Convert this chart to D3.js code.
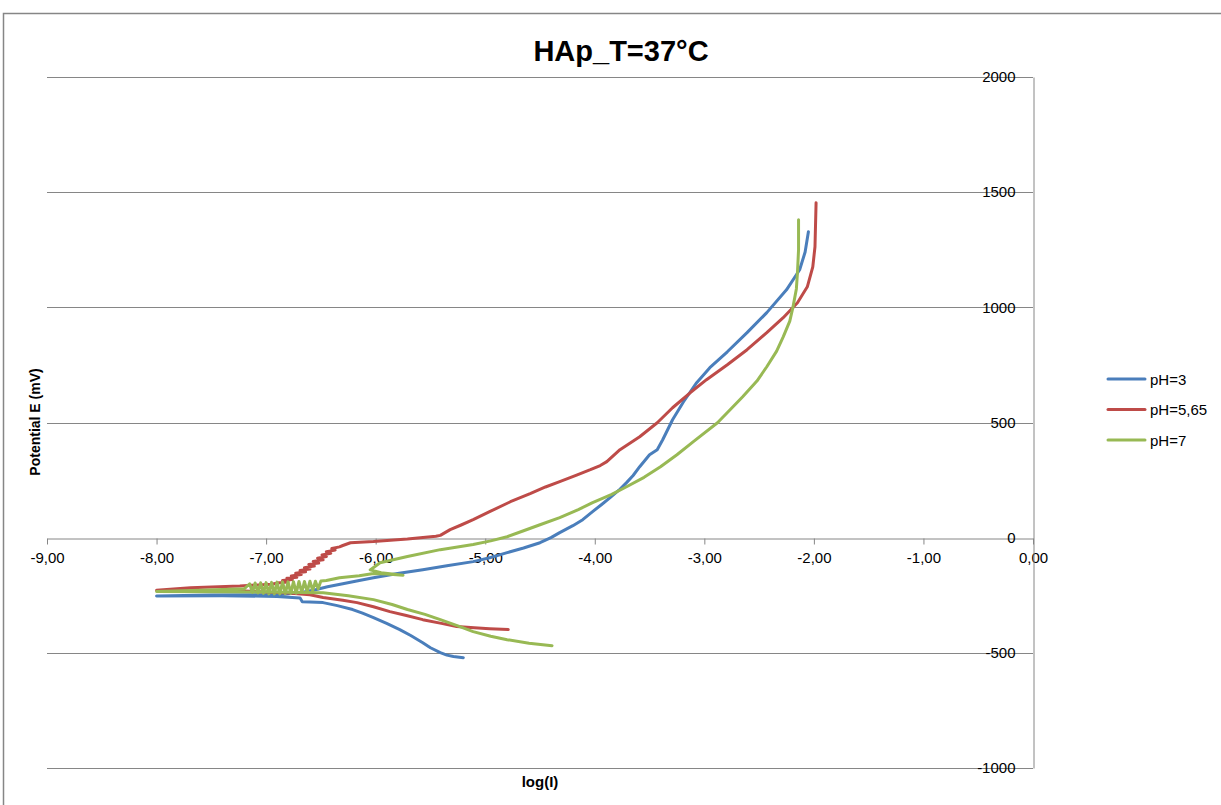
<!DOCTYPE html>
<html>
<head>
<meta charset="utf-8">
<script src="https://cdn.jsdelivr.net/npm/d3@7"></script>
<style>
  html, body { margin: 0; padding: 0; background: #fff; }
  svg { display: block; }
  text { font-family: "Liberation Sans", Arial, sans-serif; fill: #000; }
</style>
</head>
<body>
<svg id="chart" width="1221" height="805"></svg>
<script>
// Tafel polarisation curves of HAp at 37 °C, log(I) vs potential E (mV)
const seriesNames = ["pH=3", "pH=5,65", "pH=7"];
const seriesColors = ["#4A7EBB", "#BE4B48", "#98B954"];

const xTicks = [-9, -8, -7, -6, -5, -4, -3, -2, -1, 0];
const yTicks = [-1000, -500, 0, 500, 1000, 1500, 2000];

// [log(I), E in mV], in sweep order (cathodic end -> Ecorr -> anodic end)
const pH3 = [
  [-5.20,-521],[-5.29,-516],[-5.35,-510],[-5.41,-499],[-5.50,-478],[-5.57,-456],[-5.68,-425],
  [-5.78,-399],[-5.90,-372],[-6.02,-347],[-6.12,-328],[-6.21,-312],[-6.35,-295],[-6.48,-282],
  [-6.60,-279],[-6.67,-278],[-6.69,-262],[-6.90,-255],[-7.40,-252],[-8.00,-253],[-7.50,-249],
  [-7.00,-247],[-6.80,-244],[-6.69,-239],[-6.55,-226],[-6.44,-213],[-6.30,-200],[-6.15,-186],
  [-6.02,-174],[-5.80,-156],[-5.57,-139],[-5.35,-122],[-5.11,-104],[-4.95,-86],[-4.80,-65],
  [-4.65,-45],[-4.50,-22],[-4.40,0],[-4.32,22],[-4.20,52],[-4.11,78],[-4.02,113],[-3.94,143],
  [-3.86,174],[-3.78,206],[-3.71,239],[-3.65,270],[-3.59,308],[-3.50,360],[-3.43,382],
  [-3.38,425],[-3.29,512],[-3.19,590],[-3.07,673],[-2.95,738],[-2.79,807],[-2.61,890],
  [-2.43,977],[-2.25,1076],[-2.13,1163],[-2.08,1240],[-2.05,1328]
];

const pH565 = [
  [-4.79,-399],[-4.96,-395],[-5.10,-391],[-5.26,-386],[-5.40,-372],[-5.57,-356],[-5.72,-338],
  [-5.87,-321],[-6.02,-300],[-6.17,-282],[-6.30,-272],[-6.48,-260],[-6.60,-248],[-6.80,-240],
  [-7.20,-232],[-7.69,-230],[-8.00,-228],[-7.69,-217],[-7.24,-210],[-6.95,-202],
  [-6.88,-196],[-6.80,-192],[-6.85,-186],[-6.76,-182],[-6.81,-176],[-6.72,-172],[-6.77,-166],
  [-6.68,-160],[-6.73,-154],[-6.64,-148],[-6.69,-142],[-6.60,-136],[-6.65,-130],[-6.56,-123],
  [-6.61,-116],[-6.52,-110],[-6.57,-103],[-6.48,-96],[-6.53,-89],[-6.45,-82],[-6.49,-75],
  [-6.41,-68],[-6.45,-61],[-6.37,-54],[-6.40,-47],[-6.33,-40],[-6.30,-34],[-6.23,-22],
  [-6.02,-17],[-5.71,-6],[-5.45,6],[-5.41,10],[-5.32,35],[-5.22,55],[-5.11,78],[-4.96,113],
  [-4.77,156],[-4.59,191],[-4.45,220],[-4.32,243],[-4.16,273],[-4.04,295],[-3.95,313],
  [-3.89,330],[-3.77,382],[-3.59,438],[-3.43,499],[-3.29,564],[-3.13,629],[-2.98,686],
  [-2.79,751],[-2.61,816],[-2.43,890],[-2.28,955],[-2.15,1020],[-2.06,1089],[-2.01,1176],
  [-1.99,1263],[-1.98,1454]
];

const pH7 = [
  [-4.39,-469],[-4.60,-458],[-4.80,-443],[-4.95,-428],[-5.11,-408],[-5.25,-383],[-5.41,-356],
  [-5.55,-333],[-5.71,-312],[-5.85,-290],[-6.02,-269],[-6.25,-252],[-6.48,-239],[-6.70,-238],
  [-7.00,-236],[-7.50,-235],[-8.00,-234],[-7.60,-228],[-7.20,-222],
  [-7.150,-200],[-7.125,-238],[-7.100,-197],[-7.075,-240],[-7.050,-196],[-7.025,-242],
  [-7.000,-195],[-6.975,-244],[-6.950,-194],[-6.925,-244],[-6.900,-193],[-6.875,-244],
  [-6.850,-192],[-6.825,-243],[-6.800,-192],[-6.775,-242],[-6.750,-191],[-6.725,-241],
  [-6.700,-190],[-6.675,-238],[-6.650,-190],[-6.625,-235],[-6.600,-189],[-6.575,-230],
  [-6.550,-189],[-6.525,-222],[-6.500,-188],
  [-6.45,-186],[-6.33,-174],[-6.15,-165],[-6.02,-156],[-5.90,-158],[-5.75,-163],[-5.95,-152],
  [-6.05,-140],[-5.96,-109],[-5.71,-82],[-5.41,-52],[-5.11,-30],[-4.95,-14],[-4.80,4],
  [-4.65,30],[-4.50,56],[-4.32,87],[-4.15,122],[-4.02,152],[-3.85,187],[-3.71,221],
  [-3.55,262],[-3.40,308],[-3.25,360],[-3.10,417],[-2.88,499],[-2.65,612],[-2.52,680],
  [-2.43,742],[-2.34,810],[-2.28,872],[-2.22,940],[-2.19,1003],[-2.16,1080],[-2.15,1150],
  [-2.14,1250],[-2.14,1380]
];

const seriesData = [pH3, pH565, pH7];

const svg = d3.select("#chart");
const gridColor = "#868686";

const x = d3.scaleLinear().domain([-9, 0]).range([47, 1033]);
const y = d3.scaleLinear().domain([-1000, 2000]).range([768, 77]);

const locale = d3.formatLocale({ decimal: ",", thousands: ".", grouping: [3], currency: ["", ""], minus: "-" });
const fmtX = locale.format(".2f");
const fmtY = locale.format("d");

// chart frame
svg.append("rect")
  .attr("x", 3.5).attr("y", 13.5)
  .attr("width", 1230).attr("height", 800)
  .attr("fill", "none").attr("stroke", gridColor).attr("stroke-width", 1.5);

// horizontal gridlines
svg.append("g")
  .selectAll("line")
  .data(yTicks.filter(d => d !== 0))
  .join("line")
  .attr("x1", x(-9)).attr("x2", x(0))
  .attr("y1", d => Math.round(y(d)) + 0.5).attr("y2", d => Math.round(y(d)) + 0.5)
  .attr("stroke", gridColor).attr("stroke-width", 1);

// horizontal axis along E = 0
const xAxis = svg.append("g")
  .attr("transform", `translate(0,${Math.round(y(0)) + 0.5})`)
  .call(d3.axisBottom(x).tickValues(xTicks).tickFormat(fmtX).tickSizeInner(6).tickSizeOuter(0).tickPadding(8));
xAxis.select(".domain").attr("stroke", gridColor);
xAxis.selectAll(".tick line").attr("stroke", gridColor);
xAxis.selectAll(".tick text").attr("font-size", 15).attr("fill", "#000")
  .style("font-family", '"Liberation Sans", Arial, sans-serif');

// vertical axis at log(I) = 0
const yAxis = svg.append("g")
  .attr("transform", `translate(${Math.round(x(0)) + 0.5},0)`)
  .call(d3.axisLeft(y).tickValues(yTicks).tickFormat(fmtY).tickSizeInner(0).tickSizeOuter(0).tickPadding(18));
yAxis.select(".domain").attr("stroke", gridColor);
yAxis.selectAll(".tick text").attr("font-size", 15).attr("fill", "#000")
  .style("font-family", '"Liberation Sans", Arial, sans-serif');

// curves
const line = d3.line().x(d => x(d[0])).y(d => y(d[1]));
svg.append("g")
  .selectAll("path")
  .data(seriesData)
  .join("path")
  .attr("d", line)
  .attr("fill", "none")
  .attr("stroke", (d, i) => seriesColors[i])
  .attr("stroke-width", 3)
  .attr("stroke-linejoin", "round")
  .attr("stroke-linecap", "round");

// title
svg.append("text")
  .attr("x", 621).attr("y", 61)
  .attr("text-anchor", "middle")
  .attr("font-size", 29).attr("font-weight", "bold")
  .text("HAp_T=37°C");

// axis titles
svg.append("text")
  .attr("x", 540).attr("y", 787)
  .attr("text-anchor", "middle")
  .attr("font-size", 15).attr("font-weight", "bold")
  .text("log(I)");

svg.append("text")
  .attr("transform", "translate(40,422) rotate(-90)")
  .attr("text-anchor", "middle")
  .attr("font-size", 14).attr("font-weight", "bold")
  .text("Potential E (mV)");

// legend
const legend = svg.append("g")
  .selectAll("g")
  .data(seriesNames)
  .join("g")
  .attr("transform", (d, i) => `translate(1108,${379 + i * 30.5})`);
legend.append("line")
  .attr("x1", 0).attr("x2", 37).attr("y1", 0).attr("y2", 0)
  .attr("stroke", (d, i) => seriesColors[i])
  .attr("stroke-width", 3).attr("stroke-linecap", "round");
legend.append("text")
  .attr("x", 42).attr("y", 5.5)
  .attr("font-size", 15)
  .text(d => d);
</script>
</body>
</html>
